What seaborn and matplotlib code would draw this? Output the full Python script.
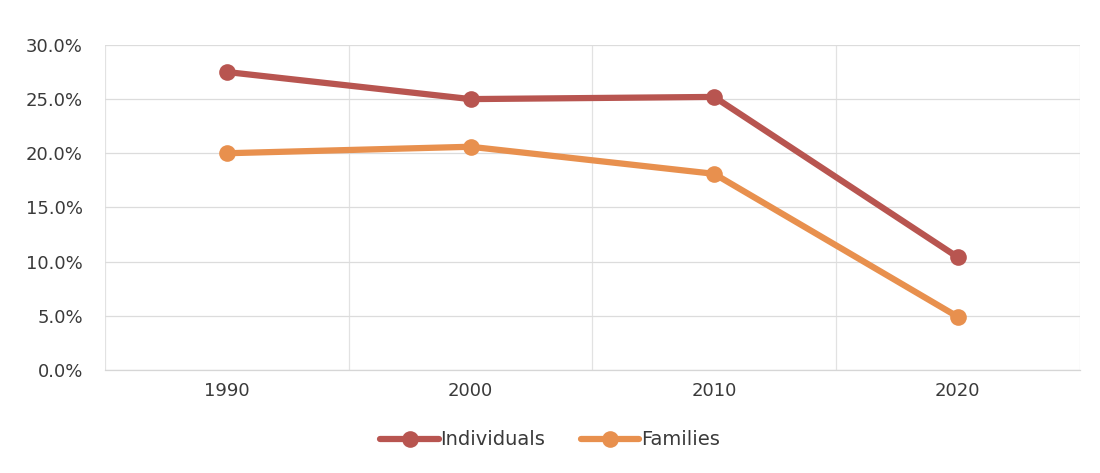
import matplotlib
matplotlib.use("Agg")
import matplotlib.pyplot as plt
import matplotlib.ticker as mticker
import numpy as np
import pandas as pd
import seaborn as sns

# Poverty rate by decade
years = ["1990", "2000", "2010", "2020"]
individuals = [27.5, 25.0, 25.2, 10.4]
families = [20.0, 20.6, 18.1, 4.9]
series_names = ["Individuals", "Families"]
series_colors = ["#B85550", "#E8904E"]

df = pd.DataFrame({
    "pos": list(range(len(years))) * 2,
    "rate": individuals + families,
    "group": [series_names[0]] * len(years) + [series_names[1]] * len(years),
})

sns.set_theme(style="white")
plt.rcParams["font.family"] = ["DejaVu Sans"]

fig = plt.figure(figsize=(11, 4.73), dpi=100)
ax = fig.add_axes([0.0955, 0.218, 0.886, 0.687])

sns.lineplot(
    data=df, x="pos", y="rate", hue="group", hue_order=series_names,
    palette=series_colors, marker="o", markersize=12, linewidth=4.5,
    markeredgewidth=0, ax=ax, legend=True,
)

ax.set_xlim(-0.5, len(years) - 0.5)
ax.set_ylim(0, 30)
ax.set_yticks(np.arange(0, 31, 5))
ax.yaxis.set_major_formatter(mticker.FuncFormatter(lambda v, _: f"{v:.1f}%"))
ax.set_xticks(range(len(years)))
ax.set_xticklabels(years)
ax.set_xticks(np.arange(-0.5, len(years), 1.0), minor=True)

ax.grid(axis="y", which="major", color="#dcdcdc", linewidth=0.9)
ax.grid(axis="x", which="minor", color="#e2e2e2", linewidth=0.9)
ax.grid(axis="x", which="major", visible=False)
ax.tick_params(axis="both", which="both", length=0)
ax.tick_params(axis="y", labelsize=13, labelcolor="#3a3a3a", pad=16)
ax.tick_params(axis="x", labelsize=13, labelcolor="#3a3a3a", pad=9)
for side in ["top", "right", "left"]:
    ax.spines[side].set_visible(False)
ax.spines["bottom"].set_color("#d6d6d6")
ax.spines["bottom"].set_linewidth(0.9)
ax.set_xlabel("")
ax.set_ylabel("")

handles, labels = ax.get_legend_handles_labels()
ax.legend(
    handles, labels, loc="center", bbox_to_anchor=(0.5, 0.07),
    bbox_transform=fig.transFigure, ncol=2, frameon=False,
    fontsize=14, handlelength=3.0, handletextpad=0.1, columnspacing=1.8,
    labelcolor="#3a3a3a",
)

fig.savefig("out.png", dpi=100, facecolor="white")
